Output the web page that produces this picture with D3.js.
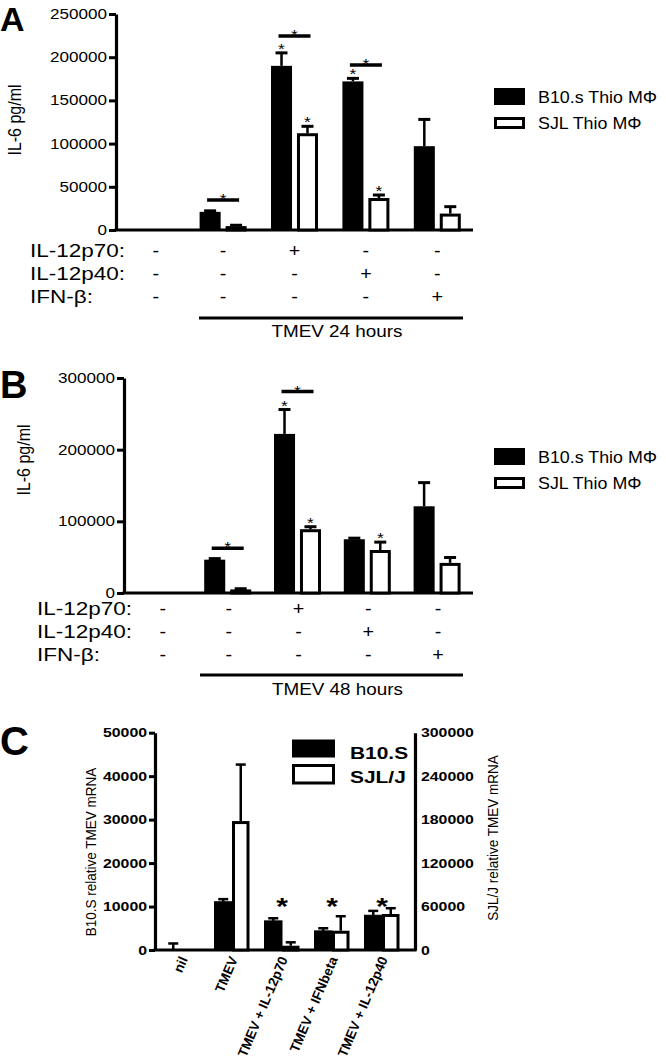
<!DOCTYPE html>
<html><head><meta charset="utf-8">
<script src="https://cdn.jsdelivr.net/npm/d3@7"></script>
<style>body{margin:0;background:#fff} svg{display:block} text{font-family:"Liberation Sans",Arial,sans-serif;fill:#000}</style>
</head><body><svg id="c" width="666" height="1059"></svg>
<script>
// ---------- data ----------
const groupIdx = [0, 1, 2, 3, 4];
const rowLabels = ["IL-12p70:", "IL-12p40:", "IFN-β:"];
const rowSigns = [["-", "-", "+", "-", "-"], ["-", "-", "-", "+", "-"], ["-", "-", "-", "-", "+"]];
const seriesAB = ["B10.s Thio MΦ", "SJL Thio MΦ"];

const ticksA = [0, 50000, 100000, 150000, 200000, 250000];
const aB10 = [0, 21000, 190000, 172000, 97000];
const aB10Err = [0, 1200, 15000, 3500, 31000];
const aSJL = [0, 4500, 112000, 37000, 19000];
const aSJLErr = [0, 1000, 8000, 3500, 8000];
const aStars = [[2, 0], [2, 1], [3, 0], [3, 1]];
const aBrackets = [[1, 34700], [2, 224500], [3, 191000]];
const aTitle = "TMEV 24 hours";

const ticksB = [0, 100000, 200000, 300000];
const bB10 = [0, 46500, 222000, 75000, 121000];
const bB10Err = [0, 1500, 34000, 1500, 33000];
const bSJL = [0, 5000, 89000, 60000, 42000];
const bSJLErr = [0, 1000, 3500, 11000, 7500];
const bStars = [[2, 0], [2, 1], [3, 1]];
const bBrackets = [[1, 62400], [2, 281000]];
const bTitle = "TMEV 48 hours";

const cCats = ["nil", "TMEV", "TMEV + IL-12p70", "TMEV + IFNbeta", "TMEV + IL-12p40"];
const cSeries = ["B10.S", "SJL/J"];
const ticksCL = [0, 10000, 20000, 30000, 40000, 50000];
const ticksCR = [0, 60000, 120000, 180000, 240000, 300000];
const cB10 = [0, 11100, 6700, 4400, 8000];
const cB10Err = [1500, 600, 600, 600, 1000];
const cSJL = [0, 178000, 5900, 26600, 49700];
const cSJLErr = [0, 78000, 4700, 20000, 8000];
const cStars = [[2, 11200], [3, 11200], [4, 11200]];
const cLeftLabel = "B10.S relative TMEV mRNA";
const cRightLabel = "SJL/J relative TMEV mRNA";

// ---------- helpers ----------
const svg = d3.select("#c");
function stext(g, x, y, s, o = {}) {
  const sx = o.sx ?? 1.25;
  let tr = `translate(${x},${y}) scale(${sx},1)`;
  if (o.rot) tr += ` rotate(${o.rot})`;
  return g.append("text").attr("transform", tr)
    .attr("font-size", o.size || 14)
    .attr("font-weight", o.weight || "normal")
    .attr("text-anchor", o.anchor || "start")
    .attr("font-family", o.family || null)
    .text(s);
}

function panelAB(cfg) {
  const g = svg.append("g");
  const x0 = d3.scaleBand().domain(groupIdx).range([cfg.left, cfg.right]);
  const y = d3.scaleLinear().domain([0, cfg.max]).range([cfg.base, cfg.top]);
  const gc = i => x0(i) + x0.bandwidth() / 2;
  const x1 = d3.scaleBand().domain([0, 1]).paddingInner(0.19);
  const sub = i => x1.copy().range([gc(i) + cfg.off - 23.5, gc(i) + cfg.off + 23.5]);

  const ax = g.append("g").attr("transform", `translate(${cfg.left},0)`)
    .call(d3.axisLeft(y).tickValues(cfg.ticks).tickFormat(d3.format("d")).tickSize(7).tickSizeOuter(0).tickPadding(2));
  ax.select(".domain").attr("stroke-width", 3.2);
  ax.selectAll(".tick line").attr("stroke-width", 3);
  ax.selectAll(".tick text").attr("font-size", 14).attr("font-family", '"Liberation Sans",Arial,sans-serif')
    .attr("x", -9 / 1.22).attr("transform", "scale(1.22,1)");
  g.append("line").attr("x1", cfg.left - 1.5).attr("x2", cfg.right).attr("y1", y(0)).attr("y2", y(0))
    .attr("stroke", "#000").attr("stroke-width", 3.2);

  const vals = [cfg.b10, cfg.sjl], errs = [cfg.b10Err, cfg.sjlErr];
  [0, 1].forEach(s => {
    groupIdx.forEach(i => {
      const v = vals[s][i];
      if (v <= 0) return;
      const xs = sub(i), bx = xs(s), bw = xs.bandwidth();
      const cx = bx + bw / 2;
      const e = errs[s][i];
      g.append("line").attr("x1", cx).attr("x2", cx).attr("y1", y(v)).attr("y2", y(v + e))
        .attr("stroke", "#000").attr("stroke-width", 2.5);
      g.append("line").attr("x1", cx - 6).attr("x2", cx + 6).attr("y1", y(v + e)).attr("y2", y(v + e))
        .attr("stroke", "#000").attr("stroke-width", 3);
      if (s === 0) {
        g.append("rect").attr("x", bx).attr("y", y(v)).attr("width", bw).attr("height", y(0) - y(v))
          .attr("fill", "#000");
      } else {
        g.append("rect").attr("x", bx + 1.5).attr("y", y(v) + 1.5).attr("width", bw - 3).attr("height", y(0) - y(v) - 1.5)
          .attr("fill", "#fff").attr("stroke", "#000").attr("stroke-width", 3);
      }
    });
  });
  cfg.stars.forEach(([i, s]) => {
    const xs = sub(i), cx = xs(s) + xs.bandwidth() / 2;
    const top = vals[s][i] + errs[s][i];
    stext(g, cx, y(top) + 1, "*", { size: 14, anchor: "middle" });
  });
  cfg.brackets.forEach(([i, v]) => {
    g.append("line").attr("x1", gc(i) + cfg.off - 16).attr("x2", gc(i) + cfg.off + 16).attr("y1", y(v)).attr("y2", y(v))
      .attr("stroke", "#000").attr("stroke-width", 3.5);
    stext(g, gc(i) + cfg.off, y(v) + 4, "*", { size: 14, anchor: "middle" });
  });
  rowLabels.forEach((lab, r) => {
    stext(g, cfg.rowX, cfg.rowY[r], lab, { size: 18, sx: 1.25 });
    rowSigns[r].forEach((sg, i) => {
      stext(g, gc(i) + (i === 0 ? 4 : 0), cfg.rowY[r], sg, { size: 18, anchor: "middle", sx: 1.1 });
    });
  });
  g.append("line").attr("x1", cfg.lineX1).attr("x2", cfg.lineX2).attr("y1", cfg.lineY).attr("y2", cfg.lineY)
    .attr("stroke", "#000").attr("stroke-width", 3.2);
  stext(g, (cfg.lineX1 + cfg.lineX2) / 2 + 6, cfg.titleY, cfg.title, { size: 16, anchor: "middle", sx: 1.18 });
  stext(g, cfg.ylabX, cfg.ylabY, "IL-6 pg/ml", { size: 16, anchor: "middle", rot: -90, sx: 1.2 });
  g.append("rect").attr("x", 494).attr("y", cfg.legY).attr("width", 31).attr("height", 17).attr("fill", "#000");
  g.append("rect").attr("x", 495.5).attr("y", cfg.legY + 30.5).attr("width", 28).attr("height", 9)
    .attr("fill", "#fff").attr("stroke", "#000").attr("stroke-width", 3);
  stext(g, 538, cfg.legY + 15, seriesAB[0], { size: 17, sx: 1.05 });
  stext(g, 538, cfg.legY + 41, seriesAB[1], { size: 17, sx: 1.05 });
  stext(g, 0, cfg.letterY, cfg.letter, { size: cfg.letterSize, weight: "bold", sx: 1.0 });
}

panelAB({
  left: 116, right: 473, top: 14, base: 230, max: 250000, ticks: ticksA, off: 0,
  b10: aB10, b10Err: aB10Err, sjl: aSJL, sjlErr: aSJLErr, stars: aStars, brackets: aBrackets,
  rowX: 30, rowY: [257, 280, 303], lineX1: 199, lineX2: 463, lineY: 318, title: aTitle, titleY: 337,
  ylabX: 21, ylabY: 120, legY: 88, letter: "A", letterY: 31, letterSize: 34
});
panelAB({
  left: 124, right: 473, top: 378, base: 593, max: 300000, ticks: ticksB, off: -1,
  b10: bB10, b10Err: bB10Err, sjl: bSJL, sjlErr: bSJLErr, stars: bStars, brackets: bBrackets,
  rowX: 37, rowY: [615, 638, 661], lineX1: 200, lineX2: 463, lineY: 675, title: bTitle, titleY: 695,
  ylabX: 30, ylabY: 460, legY: 448, letter: "B", letterY: 398, letterSize: 38
});

// ---------- panel C ----------
(function () {
  const g = svg.append("g");
  const L = 155, R = 415, base = 950, top = 732.7;
  const x0 = d3.scaleBand().domain(d3.range(cCats.length)).range([157, 407]);
  const gc = i => x0(i) + x0.bandwidth() / 2;
  const x1 = d3.scaleBand().domain([0, 1]).padding(0);
  const yL = d3.scaleLinear().domain([0, 50000]).range([base, top]);
  const yR = d3.scaleLinear().domain([0, 300000]).range([base, top]);

  const axL = g.append("g").attr("transform", `translate(${L},0)`)
    .call(d3.axisLeft(yL).tickValues(ticksCL).tickFormat(d3.format("d")).tickSize(6).tickSizeOuter(0).tickPadding(2));
  axL.select(".domain").attr("stroke-width", 3.2);
  axL.selectAll(".tick line").attr("stroke-width", 3);
  axL.selectAll(".tick text").attr("font-size", 12.5).attr("font-weight", "bold")
    .attr("font-family", '"Liberation Sans",Arial,sans-serif').attr("x", -8 / 1.27).attr("transform", "scale(1.27,1)");
  const axR = g.append("g").attr("transform", `translate(${R},0)`)
    .call(d3.axisRight(yR).tickValues(ticksCR).tickFormat(d3.format("d")).tickSize(0).tickSizeOuter(0).tickPadding(6));
  axR.select(".domain").attr("stroke-width", 3.2);
  axR.selectAll(".tick text").attr("font-size", 12.5).attr("font-weight", "bold")
    .attr("font-family", '"Liberation Sans",Arial,sans-serif').attr("x", 6 / 1.27).attr("transform", "scale(1.27,1)");
  g.append("line").attr("x1", L - 1.5).attr("x2", R + 1.5).attr("y1", base).attr("y2", base)
    .attr("stroke", "#000").attr("stroke-width", 3.2);

  const scales = [yL, yR], vals = [cB10, cSJL], errs = [cB10Err, cSJLErr];
  [0, 1].forEach(s => {
    const y = scales[s];
    cCats.forEach((c, i) => {
      const xs = x1.copy().range([gc(i) - 17.5, gc(i) + 17.5]);
      const bx = xs(s), bw = xs.bandwidth(), cx = bx + bw / 2;
      const v = vals[s][i], e = errs[s][i];
      if (e > 0) {
        g.append("line").attr("x1", cx).attr("x2", cx).attr("y1", y(v)).attr("y2", y(v + e))
          .attr("stroke", "#000").attr("stroke-width", 2.5);
        g.append("line").attr("x1", cx - 5).attr("x2", cx + 5).attr("y1", y(v + e)).attr("y2", y(v + e))
          .attr("stroke", "#000").attr("stroke-width", 2.5);
      }
      if (v <= 0) return;
      if (s === 0) {
        g.append("rect").attr("x", bx).attr("y", y(v)).attr("width", bw).attr("height", base - y(v))
          .attr("fill", "#000").attr("stroke", "#000").attr("stroke-width", 1);
      } else {
        g.append("rect").attr("x", bx + 1.5).attr("y", y(v) + 1.5).attr("width", bw - 3).attr("height", base - y(v) - 1.5)
          .attr("fill", "#fff").attr("stroke", "#000").attr("stroke-width", 3);
      }
    });
  });
  cStars.forEach(([i, v]) => stext(g, gc(i), yL(v) + 14, "*", { size: 24, weight: "bold", anchor: "middle" }));
  cCats.forEach((c, i) => {
    g.append("text").attr("transform", `translate(${gc(i) + 6},${base + 9}) rotate(-67)`)
      .attr("text-anchor", "end").attr("font-size", 13.5).attr("font-weight", "bold").text(c);
  });
  stext(g, 96, 852, cLeftLabel, { size: 13.5, anchor: "middle", rot: -90, sx: 1.15 });
  stext(g, 498, 838, cRightLabel, { size: 13.5, anchor: "middle", rot: -90, sx: 1.15 });
  g.append("rect").attr("x", 292).attr("y", 739.5).attr("width", 43).attr("height", 18).attr("fill", "#000");
  g.append("rect").attr("x", 293.5).attr("y", 765.5).attr("width", 40).attr("height", 17.5)
    .attr("fill", "#fff").attr("stroke", "#000").attr("stroke-width", 3);
  stext(g, 350, 759, cSeries[0], { size: 17, weight: "bold", sx: 1.23 });
  stext(g, 350, 783, cSeries[1], { size: 17, weight: "bold", sx: 1.23 });
  stext(g, 0, 755, "C", { size: 40, weight: "bold", sx: 1.0, family: '"Open Sans",sans-serif' });
})();
</script></body></html>
